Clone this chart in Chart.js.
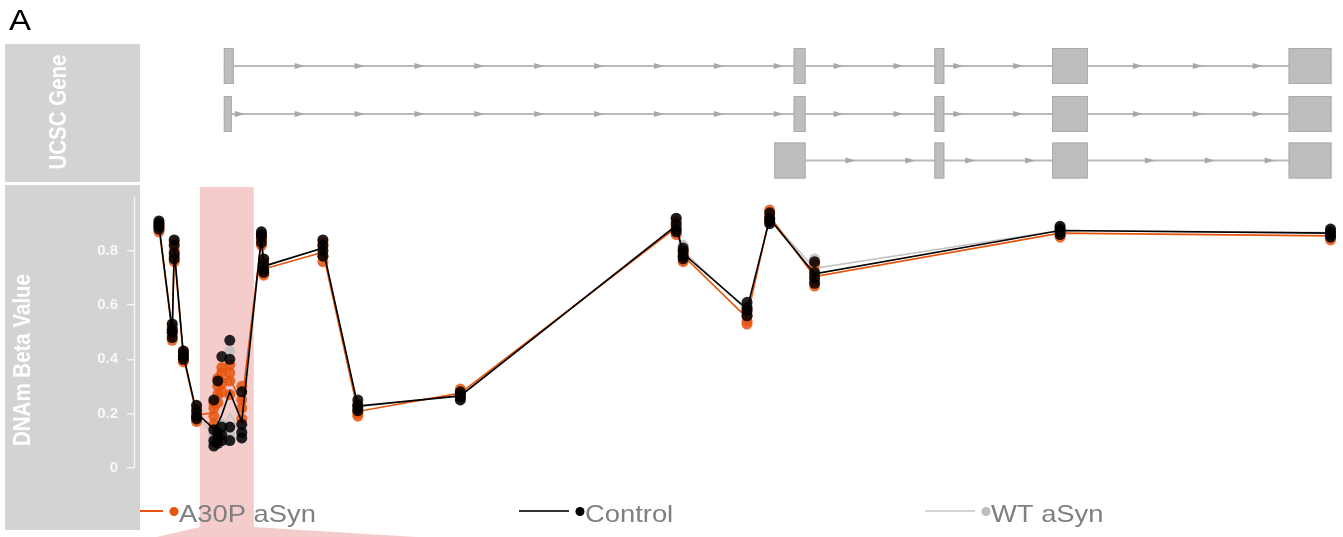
<!DOCTYPE html>
<html><head><meta charset="utf-8">
<script src="https://cdn.jsdelivr.net/npm/chart.js@4.4.0/dist/chart.umd.min.js"></script>
<style>html,body{margin:0;padding:0;background:#fff;overflow:hidden}</style>
</head><body>
<canvas id="c" width="1343" height="537"></canvas>
<script>
// ---- DATA (genomic positions in bp relative to the start of the plotted region) ----
const cpgPositions = [1900, 3230, 3430, 4350, 5670, 7400, 7800, 8200, 9000, 10200, 12170, 12400,
  18330, 21830, 32100, 53730, 54430, 60830, 63100, 67600, 92200, 119300];
const controlBeta = [
  [0.91,0.90,0.89,0.88],[0.53,0.51,0.50,0.48],[0.84,0.82,0.79,0.77],[0.43,0.42,0.41,0.40],
  [0.23,0.21,0.19,0.18],[0.25,0.14,0.10,0.08],[0.32,0.13,0.11,0.09],[0.41,0.15,0.12,0.10],
  [0.47,0.40,0.15,0.10],[0.28,0.16,0.13,0.11],[0.87,0.86,0.85,0.83],[0.77,0.75,0.73,0.72],
  [0.84,0.82,0.80,0.78],[0.25,0.23,0.22,0.21],[0.28,0.27,0.26,0.25],[0.92,0.90,0.88,0.87],
  [0.81,0.80,0.78,0.77],[0.61,0.59,0.58,0.56],[0.94,0.92,0.91,0.90],[0.76,0.72,0.70,0.68],
  [0.89,0.88,0.87,0.86],[0.88,0.87,0.86,0.85]];
const a30pBeta = [
  [0.90,0.89,0.88,0.87],[0.52,0.50,0.49,0.47],[0.83,0.80,0.78,0.76],[0.43,0.41,0.40,0.39],
  [0.22,0.20,0.19,0.17],[0.24,0.22,0.19,0.16],[0.33,0.30,0.27,0.24],[0.37,0.35,0.31,0.28],
  [0.38,0.35,0.32,0.27],[0.30,0.25,0.22,0.18],[0.86,0.85,0.84,0.82],[0.76,0.74,0.72,0.71],
  [0.83,0.81,0.78,0.76],[0.23,0.21,0.20,0.19],[0.29,0.28,0.27,0.26],[0.91,0.89,0.88,0.86],
  [0.80,0.79,0.78,0.76],[0.58,0.56,0.54,0.53],[0.95,0.93,0.92,0.91],[0.75,0.71,0.69,0.67],
  [0.88,0.87,0.86,0.85],[0.87,0.86,0.85,0.84]];
const wtBeta = [
  [0.91,0.90,0.89,0.88],[0.53,0.51,0.50,0.49],[0.84,0.81,0.79,0.77],[0.43,0.42,0.41,0.40],
  [0.23,0.21,0.20,0.18],[0.13,0.12,0.10,0.09],[0.15,0.12,0.11,0.10],[0.16,0.13,0.12,0.10],
  [0.43,0.15,0.12,0.10],[0.15,0.13,0.12,0.11],[0.87,0.86,0.85,0.84],[0.77,0.75,0.74,0.72],
  [0.84,0.82,0.80,0.78],[0.24,0.23,0.22,0.21],[0.28,0.27,0.26,0.25],[0.92,0.90,0.89,0.87],
  [0.82,0.80,0.79,0.78],[0.60,0.59,0.57,0.56],[0.94,0.92,0.91,0.90],[0.77,0.74,0.72,0.71],
  [0.89,0.88,0.87,0.86],[0.88,0.87,0.86,0.86]];
const groupLabels = ['A30P aSyn', 'Control', 'WT aSyn'];
const yTickValues = [0, 0.2, 0.4, 0.6, 0.8];
const yTickLabels = ['0', '0.2', '0.4', '0.6', '0.8'];
// UCSC gene model: exon [start, end] in bp, one list per transcript
const tx1Exons = [[8400,9400],[65500,66700],[79600,80600],[91400,95000],[115100,119400]];
const tx2Exons = [[8400,9200],[65500,66700],[79600,80600],[91400,95000],[115100,119400]];
const tx3Exons = [[63550,66700],[79600,80600],[91400,95000],[115100,119400]];
const highlightRange = [6000, 11400];
const zoomTargetRange = [1700, 27700];

// ---- helpers ----
const FONT = '"Liberation Sans", Arial, Helvetica, sans-serif';
const SX = 1.14; // horizontal stretch of the original figure
function pts(vals){ const o=[]; cpgPositions.forEach((p,i)=>vals[i].forEach(v=>o.push({x:p,y:v}))); return o; }
function means(vals){ return cpgPositions.map((p,i)=>({x:p,y:vals[i].reduce((a,b)=>a+b,0)/vals[i].length})); }

const COL = {a30p:'#e6550d', ctrl:'#000000', wt:'#c4c4c4'};

const transcripts = [
  {exons: tx1Exons, cy: 66, phase: 9500},
  {exons: tx2Exons, cy: 114, phase: 9500},
  {exons: tx3Exons, cy: 160.5, phase: 70700}
];

function vtext(ctx, txt, cx, cy, font){
  ctx.save(); ctx.translate(cx, cy); ctx.scale(SX, 1); ctx.rotate(-Math.PI/2);
  ctx.font = font; ctx.textAlign='center'; ctx.textBaseline='middle'; ctx.fillText(txt, 0, 0); ctx.restore();
}

const deco = {
  id: 'deco',
  beforeDraw(chart){
    const ctx = chart.ctx, xs = chart.scales.x;
    ctx.save();
    ctx.fillStyle = '#ffffff'; ctx.fillRect(0,0,chart.width,chart.height);
    // panel label
    ctx.fillStyle = '#000'; ctx.font = '29px ' + FONT;
    ctx.save(); ctx.translate(9, 30); ctx.scale(SX,1); ctx.fillText('A', 0, 0); ctx.restore();
    // title panels
    ctx.fillStyle = '#d3d3d3';
    ctx.fillRect(5, 44, 135, 138);
    ctx.fillRect(5, 185, 135, 345);
    ctx.fillStyle = '#ffffff';
    vtext(ctx, 'UCSC Gene', 60, 112, 'bold 20.5px ' + FONT);
    vtext(ctx, 'DNAm Beta Value', 24, 360, 'bold 20.5px ' + FONT);
    // gene track
    transcripts.forEach(t => {
      const ex = t.exons;
      const x0 = xs.getPixelForValue(ex[0][0]), x1 = xs.getPixelForValue(ex[ex.length-1][1]);
      ctx.strokeStyle = '#bababa'; ctx.lineWidth = 2;
      ctx.beginPath(); ctx.moveTo(x0, t.cy); ctx.lineTo(x1, t.cy); ctx.stroke();
      // strand arrows
      ctx.fillStyle = '#a8a8a8';
      for (let i = 0; i < ex.length-1; i++){
        const a = xs.getPixelForValue(ex[i][1]), b = xs.getPixelForValue(ex[i+1][0]);
        for (let g = t.phase - 6000*20; g < 125000; g += 6000){
          const px = xs.getPixelForValue(g);
          if (px >= a + 1.5 && px + 10 <= b - 2){
            ctx.beginPath(); ctx.moveTo(px, t.cy-3); ctx.lineTo(px+10, t.cy); ctx.lineTo(px, t.cy+3); ctx.closePath(); ctx.fill();
          }
        }
      }
      ex.forEach(e => {
        const a = xs.getPixelForValue(e[0]), b = xs.getPixelForValue(e[1]);
        ctx.fillStyle = '#bebebe'; ctx.fillRect(a, t.cy-18, b-a, 36);
        ctx.strokeStyle = '#ababab'; ctx.lineWidth = 1; ctx.strokeRect(a+0.5, t.cy-17.5, b-a-1, 35);
      });
    });
    // highlight
    const h0 = xs.getPixelForValue(highlightRange[0]), h1 = xs.getPixelForValue(highlightRange[1]);
    ctx.fillStyle = '#f5cccc';
    ctx.fillRect(h0, 187, h1-h0, 340);
    const z0 = xs.getPixelForValue(zoomTargetRange[0]), z1 = xs.getPixelForValue(zoomTargetRange[1]);
    ctx.beginPath(); ctx.moveTo(h0, 527); ctx.lineTo(h1, 527); ctx.lineTo(z1, 537); ctx.lineTo(z0, 537); ctx.closePath(); ctx.fill();
    ctx.restore();
  },
  afterDraw(chart){
    const ctx = chart.ctx, ys = chart.scales.y;
    ctx.save();
    // axis line over data range
    ctx.strokeStyle = '#f4f4f4'; ctx.lineWidth = 1.5;
    ctx.beginPath(); ctx.moveTo(134.5, ys.getPixelForValue(1)); ctx.lineTo(134.5, ys.getPixelForValue(0)); ctx.stroke();
    // legend
    ctx.beginPath(); ctx.rect(140, 480, 1203, 57); ctx.clip();
    const items = [
      {x: 113, c: COL.a30p, lc: COL.a30p},
      {x: 519, c: COL.ctrl, lc: '#333333'},
      {x: 925, c: '#bdbdbd', lc: '#d4d4d4'}
    ];
    items.forEach((it, i) => {
      ctx.strokeStyle = it.lc; ctx.lineWidth = 2;
      ctx.beginPath(); ctx.moveTo(it.x, 511); ctx.lineTo(it.x+50, 511); ctx.stroke();
      ctx.fillStyle = it.c; ctx.beginPath(); ctx.arc(it.x+61, 511.5, 4.5, 0, Math.PI*2); ctx.fill();
      ctx.fillStyle = '#7f7f7f'; ctx.font = '24px ' + FONT;
      ctx.save(); ctx.translate(it.x+66, 522); ctx.scale(SX,1); ctx.fillText(groupLabels[i], 0, 0); ctx.restore();
    });
    ctx.restore();
  }
};

new Chart(document.getElementById('c'), {
  type: 'scatter',
  data: {
    datasets: [
      {label: 'Control', data: means(controlBeta), showLine: true, borderColor: COL.ctrl, borderWidth: 1.6, pointRadius: 0, order: 0},
      {label: 'Control samples', data: pts(controlBeta), pointRadius: 5.5, backgroundColor: 'rgba(0,0,0,0.85)', borderWidth: 0, order: 1},
      {label: 'A30P aSyn', data: means(a30pBeta), showLine: true, borderColor: COL.a30p, borderWidth: 1.6, pointRadius: 0, order: 2},
      {label: 'A30P samples', data: pts(a30pBeta), pointRadius: 5.5, backgroundColor: 'rgba(230,85,13,0.85)', borderWidth: 0, order: 3},
      {label: 'WT aSyn', data: means(wtBeta), showLine: true, borderColor: COL.wt, borderWidth: 1.6, pointRadius: 0, order: 4},
      {label: 'WT samples', data: pts(wtBeta), pointRadius: 5.5, backgroundColor: 'rgba(190,190,190,0.85)', borderWidth: 0, order: 5}
    ]
  },
  options: {
    responsive: false, animation: false, devicePixelRatio: 1,
    layout: {padding: {top: 187, left: 0, right: 3, bottom: 0}},
    plugins: {legend: {display: false}, tooltip: {enabled: false}},
    scales: {
      x: {type: 'linear', min: -500, max: 120000, display: false},
      y: {
        type: 'linear', position: 'left', min: -0.2352, max: 1.0352,
        afterFit(s){ s.width = 135; s.paddingTop = 0; s.paddingBottom = 0; },
        afterBuildTicks(s){ s.ticks = yTickValues.map(v => ({value: v})); },
        border: {display: false},
        grid: {drawOnChartArea: false, drawTicks: true, tickLength: 8, color: '#f4f4f4', lineWidth: 1.5},
        ticks: {color: '#f7f7f7', padding: 9, font: {family: FONT, size: 15, weight: 'bold'},
          callback: (v, i) => yTickLabels[i]}
      }
    }
  },
  plugins: [deco]
});
</script>
</body></html>
